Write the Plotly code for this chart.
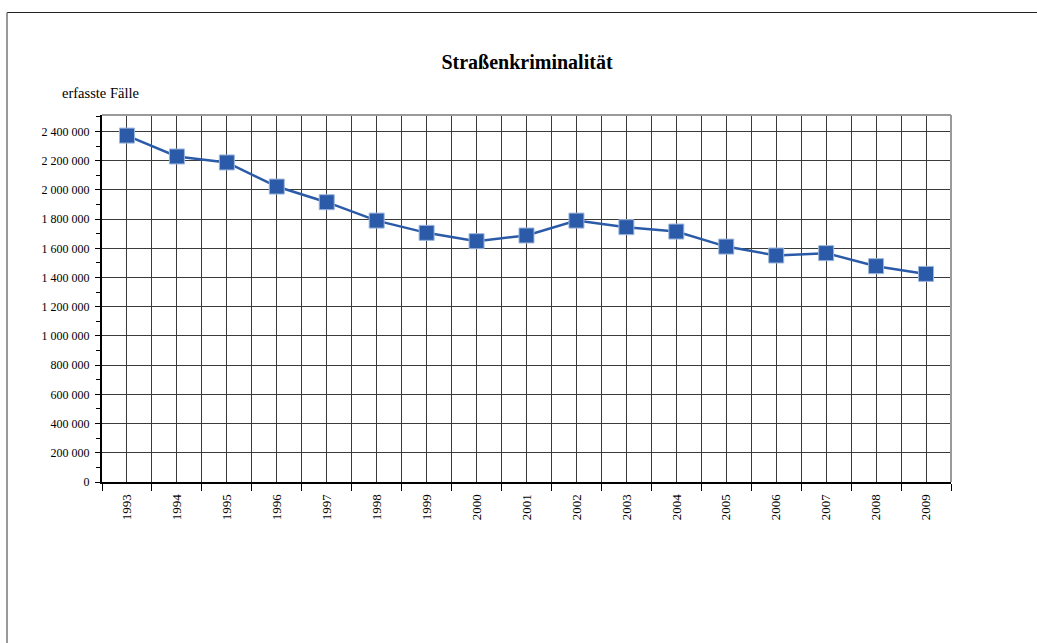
import plotly.graph_objects as go

years = list(range(1993, 2010))
faelle = [2372000, 2229000, 2188000, 2023000, 1916000, 1790000, 1706000, 1649000,
          1688000, 1790000, 1745000, 1715000, 1612000, 1551000, 1567000, 1478000, 1425000]
year_labels = [str(y) for y in years]
title_text = "Straßenkriminalität"
y_title = "erfasste Fälle"

FONT = "Liberation Serif, Times New Roman, serif"
BLUE = "#2B5BA8"
GRID = "#3a3a3a"

boundaries = [y - 0.5 for y in years] + [years[-1] + 0.5]

fig = go.Figure()
fig.add_trace(go.Scatter(
    x=years, y=faelle, mode="lines+markers",
    line=dict(color=BLUE, width=2.5),
    marker=dict(symbol="square", size=15, color=BLUE,
                line=dict(color="#9db6dd", width=1)),
    showlegend=False, hoverinfo="x+y",
))

W, H = 1037, 643
ml, mr, mt, mb = 102, 86, 115, 161
pw = W - ml - mr
ph = H - mt - mb

def px_x(x):
    return (x - ml) / pw

def px_y(y):
    return (H - mb - y) / ph

fig.update_layout(
    width=W, height=H,
    margin=dict(l=ml, r=mr, t=mt, b=mb, pad=0),
    paper_bgcolor="white", plot_bgcolor="white",
    separators=", ",
    font=dict(family=FONT, size=12, color="black"),
    title=dict(text="<b>" + title_text + "</b>", x=px_x(527), xref="paper",
               xanchor="center", y=1 - 62 / H, yanchor="middle",
               font=dict(family=FONT, size=20, color="black")),
    xaxis=dict(
        range=[years[0] - 0.5, years[-1] + 0.5],
        tickmode="array", tickvals=years, ticktext=year_labels,
        tickangle=-90, ticks="", ticklabelstandoff=5,
        showgrid=True, gridcolor=GRID, gridwidth=1,
        showline=True, linecolor="black", linewidth=2,
        zeroline=False, fixedrange=True,
        minor=dict(tickmode="array", tickvals=boundaries, ticks="outside",
                   ticklen=7, tickcolor="black", tickwidth=1,
                   showgrid=True, gridcolor=GRID, gridwidth=1),
        tickfont=dict(family=FONT, size=13),
    ),
    yaxis=dict(
        range=[0, 2513000],
        tickmode="linear", tick0=0, dtick=200000, tickformat=",d",
        ticks="outside", ticklen=5, tickcolor="black", tickwidth=1,
        ticklabelstandoff=3,
        showgrid=True, gridcolor=GRID, gridwidth=1,
        showline=True, linecolor="black", linewidth=2,
        zeroline=False, fixedrange=True,
        minor=dict(dtick=100000, ticks="outside", ticklen=4,
                   tickcolor="black", showgrid=False),
        tickfont=dict(family=FONT, size=12),
    ),
    annotations=[dict(text=y_title, xref="paper", yref="paper",
                      x=px_x(60), y=px_y(93), xanchor="left", yanchor="middle",
                      showarrow=False, font=dict(family=FONT, size=14.5))],
    shapes=[
        # plot area top/right gray border
        dict(type="line", xref="paper", yref="paper", x0=0, x1=1, y0=1, y1=1,
             line=dict(color="#9a9a9a", width=2), layer="above"),
        dict(type="line", xref="paper", yref="paper", x0=1, x1=1, y0=0, y1=1,
             line=dict(color="#9a9a9a", width=2), layer="above"),
        # outer chart border
        dict(type="line", xref="paper", yref="paper", x0=px_x(7), x1=px_x(1045),
             y0=px_y(12.5), y1=px_y(12.5), line=dict(color="#222222", width=1)),
        dict(type="line", xref="paper", yref="paper", x0=px_x(7), x1=px_x(7),
             y0=px_y(12.5), y1=px_y(660), line=dict(color="#777777", width=1.5)),
    ],
)

fig.write_html("out.html",
               config={"displayModeBar": False},
               post_script="document.body.style.margin='0px';"
                           "document.body.style.overflow='hidden';")
